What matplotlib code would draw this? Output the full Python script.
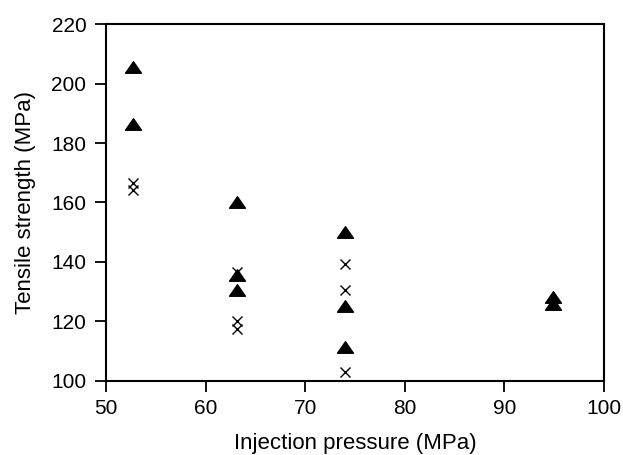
import matplotlib.pyplot as plt
from matplotlib.path import Path

plt.rcParams['font.family'] = ['Liberation Sans', 'DejaVu Sans']

# triangles (filled)
tri_x = [52.7, 52.7, 63.2, 63.2, 63.2, 74.0, 74.0, 74.0, 94.9, 94.9]
tri_y = [205.5, 186.4, 160.3, 135.6, 130.6, 150.1, 125.2, 111.4, 128.1, 125.9]

# crosses
crs_x = [52.7, 52.7, 63.2, 63.2, 63.2, 74.0, 74.0, 74.0]
crs_y = [166.6, 164.2, 136.5, 120.2, 117.3, 139.3, 130.6, 103.0]

tri = Path([(-1, -0.72), (1, -0.72), (0, 0.72), (-1, -0.72)],
           [Path.MOVETO, Path.LINETO, Path.LINETO, Path.CLOSEPOLY])

fig = plt.figure(figsize=(6.23, 4.55), dpi=100)
ax = fig.add_axes([0.170, 0.163, 0.7995, 0.784])

ax.plot(crs_x, crs_y, linestyle='none', marker='x', markersize=7.8,
        markeredgewidth=1.0, color='black')
ax.plot(tri_x, tri_y, linestyle='none', marker=tri, markersize=11.5,
        color='black')

ax.set_xlim(50, 100)
ax.set_ylim(100, 220)
ax.set_xticks(range(50, 101, 10))
ax.set_yticks(range(100, 221, 20))
ax.tick_params(direction='out', length=8, width=1.3, labelsize=15,
               top=False, right=False)
ax.tick_params(axis='x', pad=5)
ax.tick_params(axis='y', pad=6)
for s in ax.spines.values():
    s.set_linewidth(1.5)

ax.set_xlabel('Injection pressure (MPa)', fontsize=16, labelpad=11)
ax.set_ylabel('Tensile strength (MPa)', fontsize=16, labelpad=11)

fig.savefig('out.png', dpi=100)
